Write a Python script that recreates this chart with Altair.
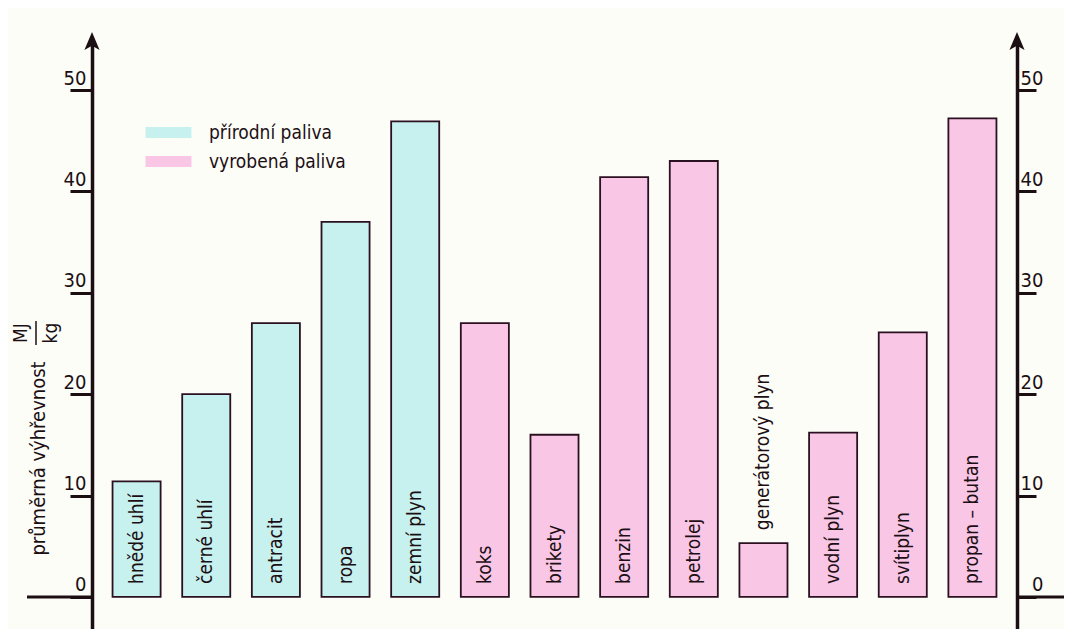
import altair as alt
import pandas as pd

categories = ["hnědé uhlí", "černé uhlí", "antracit", "ropa", "zemní plyn",
              "koks", "brikety", "benzin", "petrolej", "generátorový plyn",
              "vodní plyn", "svítiplyn", "propan – butan"]
values = [11.4, 20.0, 27.0, 37.0, 46.9, 27.0, 16.0, 41.4, 43.0, 5.3, 16.2, 26.1, 47.2]
groups = ["přírodní paliva"] * 5 + ["vyrobená paliva"] * 8
group_names = ["přírodní paliva", "vyrobená paliva"]
group_colors = ["#c6f1ee", "#f9c6e6"]
y_ticks = [0, 10, 20, 30, 40, 50]
y_title = "průměrná výhřevnost"
unit_num = "MJ"
unit_den = "kg"

df = pd.DataFrame({"palivo": categories, "hodnota": values, "skupina": groups})
one = pd.DataFrame({"k": [0]})
tick_df = pd.DataFrame({"t": y_ticks})

FONT = "Liberation Sans Narrow, DejaVu Sans Condensed, Liberation Sans, sans-serif"
INK = "#1c0f14"
ydom = [-3.16, 55.13]


def yscale():
    return alt.Scale(domain=ydom, nice=False, zero=False)


xenc = alt.X("palivo:N", sort=categories, axis=None,
             scale=alt.Scale(paddingInner=0.31, paddingOuter=0.295))

left_axis = alt.Axis(
    values=y_ticks, orient="left", grid=False,
    domainColor=INK, domainWidth=3.5, tickColor=INK, tickWidth=3, tickSize=22,
    labelFont=FONT, labelFontSize=20, labelColor=INK, labelAlign="right",
    labelBaseline="middle", labelPadding=-16, labelOffset=-12,
    title=y_title, titleAngle=270, titleX=-54, titleY=420, titleAlign="center",
    titleBaseline="middle", titleFont=FONT, titleFontSize=20,
    titleFontWeight="normal", titleColor=INK,
)

right_axis = alt.Axis(
    values=y_ticks, orient="right", grid=False, title=None,
    domainColor=INK, domainWidth=3.5, tickColor=INK, tickWidth=3, tickSize=19,
    labelFont=FONT, labelFontSize=20, labelColor=INK, labelAlign="right",
    labelBaseline="middle", labelPadding=7, labelOffset=-12,
)

bars = alt.Chart(df).mark_bar(stroke="#2a1020", strokeWidth=1.8).encode(
    x=xenc,
    y=alt.Y("hodnota:Q", scale=yscale(), axis=left_axis),
    y2=alt.datum(0),
    fill=alt.Fill(
        "skupina:N",
        scale=alt.Scale(domain=group_names, range=group_colors),
        legend=alt.Legend(
            orient="none", legendX=67, legendY=85, title=None,
            symbolType="M-3.83,-0.92H3.83V0.92H-3.83Z", symbolSize=144,
            symbolStrokeWidth=0, symbolOpacity=1,
            labelFont=FONT, labelFontSize=19, labelColor=INK,
            labelOffset=31, rowPadding=9, padding=0,
        ),
    ),
)

labels = alt.Chart(df).transform_calculate(
    anchor="datum.hodnota < 10 ? datum.hodnota : 0"
).mark_text(
    angle=270, align="left", baseline="middle", dx=13,
    font=FONT, fontSize=19, color=INK
).encode(
    x=xenc,
    y=alt.Y("anchor:Q", scale=yscale(), axis=None),
    text="palivo:N",
)

right = alt.Chart(tick_df).mark_tick(opacity=0).encode(
    y=alt.Y("t:Q", scale=yscale(), axis=right_axis)
)

zero_left = alt.Chart(one).mark_rule(color=INK, strokeWidth=3).encode(
    y=alt.Y("k:Q", scale=yscale(), axis=None),
    x=alt.value(-65), x2=alt.value(0),
)
zero_right = alt.Chart(one).mark_rule(color=INK, strokeWidth=3).encode(
    y=alt.Y("k:Q", scale=yscale(), axis=None),
    x=alt.value(925), x2=alt.value(975),
)

arrow_path = "M0,-1L0.8,0.9L0,0.45L-0.8,0.9Z"
arrow_l = alt.Chart(one).mark_point(shape=arrow_path, filled=True, fill=INK,
                                    size=361, opacity=1, strokeWidth=0).encode(
    x=alt.value(0), y=alt.value(3.5))
arrow_r = alt.Chart(one).mark_point(shape=arrow_path, filled=True, fill=INK,
                                    size=361, opacity=1, strokeWidth=0).encode(
    x=alt.value(925), y=alt.value(3.5))

frac_num = alt.Chart(one).mark_text(
    text=unit_num, angle=270, align="center", baseline="middle",
    font=FONT, fontSize=19, color=INK
).encode(x=alt.value(-71), y=alt.value(295))
frac_den = alt.Chart(one).mark_text(
    text=unit_den, angle=270, align="center", baseline="middle",
    font=FONT, fontSize=19, color=INK
).encode(x=alt.value(-41), y=alt.value(295))
frac_line = alt.Chart(one).mark_rule(color=INK, strokeWidth=1.5).encode(
    x=alt.value(-56), y=alt.value(283), y2=alt.value(307))

chart = alt.layer(
    bars, labels, right, zero_left, zero_right, arrow_l, arrow_r,
    frac_num, frac_den, frac_line
).resolve_scale(y="independent").properties(
    width=925, height=591,
    padding={"left": 84, "top": 30, "right": 47, "bottom": 0},
    autosize=alt.AutoSizeParams(type="none"),
    background="#fdfdf8",
).configure_view(stroke=None)

chart.save("out.html", embed_options={"renderer": "svg", "actions": False})
